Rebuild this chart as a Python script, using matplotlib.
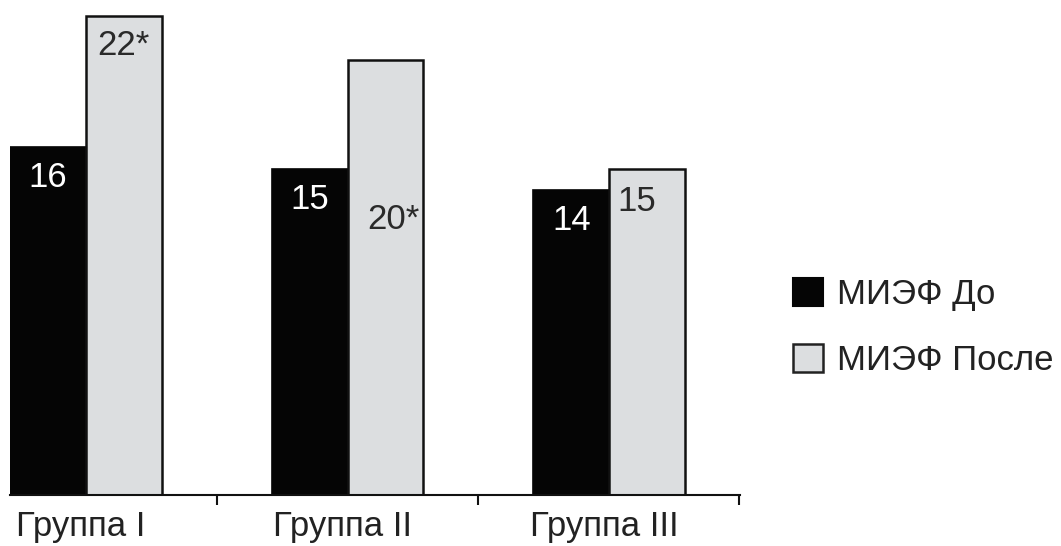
import matplotlib
matplotlib.use("Agg")
import matplotlib.pyplot as plt
import numpy as np
from matplotlib.patches import Patch

plt.rcParams['font.family'] = ['Liberation Sans', 'DejaVu Sans']

groups = ["Группа I", "Группа II", "Группа III"]
series_names = ["МИЭФ До", "МИЭФ После"]
before = [16, 15, 14]
after = [22, 20, 15]
before_labels = ["16", "15", "14"]
after_labels = ["22*", "20*", "15"]

BLACK = "#050505"
GRAY = "#dcdee0"
FS = 25

fig = plt.figure(figsize=(10.61, 5.46), dpi=100)
ax = fig.add_axes([10 / 1061, 51 / 546, 730 / 1061, 495 / 546])

x = np.arange(len(groups))
w = 0.29

ax.bar(x - w / 2, before, width=w, color=BLACK, edgecolor=BLACK, linewidth=1.2)
ax.bar(x + w / 2, after, width=w, color=GRAY, edgecolor="#111111", linewidth=1.8)

# value labels inside bars (the "20*" sits lower in the original)
before_y = [v - 1.4 for v in before]
after_y = [after[0] - 1.35, 12.65, after[2] - 1.5]
after_dx = [0.0, 0.03, -0.04]
for i in range(len(groups)):
    ax.text(x[i] - w / 2, before_y[i], before_labels[i], ha="center", va="center",
            color="white", fontsize=FS)
    ax.text(x[i] + w / 2 + after_dx[i], after_y[i], after_labels[i], ha="center",
            va="center", color="#2a2a2a", fontsize=FS)

ax.set_xlim(-0.29, 2.5)
ax.set_ylim(0, 495 / 21.75)

for s in ["left", "top", "right"]:
    ax.spines[s].set_visible(False)
ax.spines["bottom"].set_linewidth(1.5)
ax.spines["bottom"].set_color("#111111")
ax.set_yticks([])

ax.set_xticks(x - 0.02)
ax.set_xticklabels(groups, fontsize=FS, color="#222222")
ax.set_xticks([0.5, 1.5, 2.495], minor=True)
ax.tick_params(axis="x", which="major", length=0, pad=11)
ax.tick_params(axis="x", which="minor", length=7.5, width=1.5, color="#111111")

handles = [Patch(facecolor=BLACK, edgecolor=BLACK, linewidth=1.5),
           Patch(facecolor=GRAY, edgecolor="#222222", linewidth=1.8)]
fig.legend(handles, series_names, loc="center left", bbox_to_anchor=(793 / 1061, 0.40),
           frameon=False, fontsize=FS, handlelength=0.85, handleheight=0.85,
           handletextpad=0.42, labelspacing=0.95, borderpad=0, borderaxespad=0,
           labelcolor="#222222")

fig.savefig("out.png", dpi=100)
